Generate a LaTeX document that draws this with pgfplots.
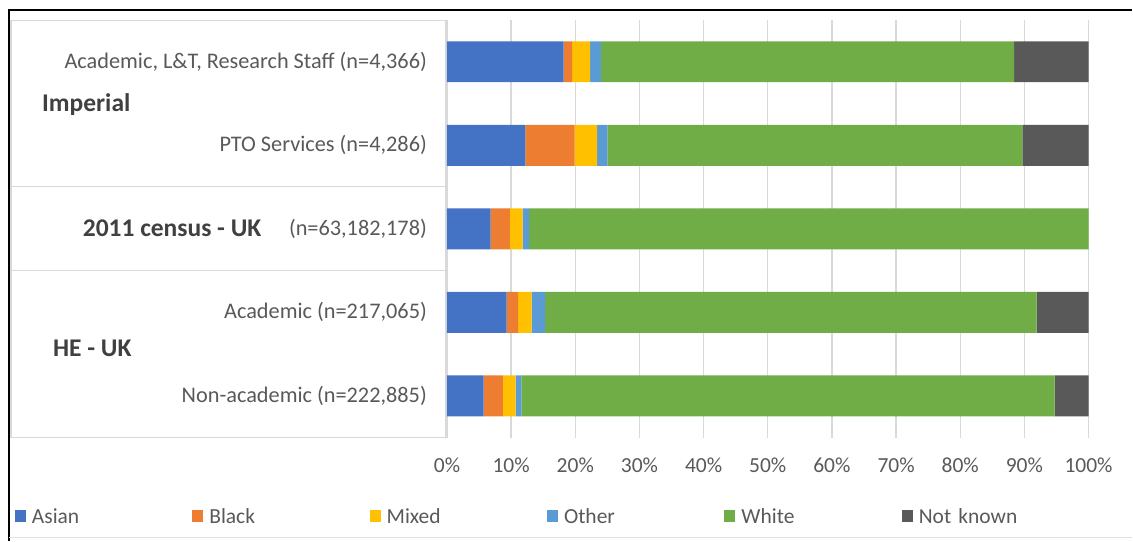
\documentclass[border=0pt]{standalone}
\usepackage{fontspec}
\setmainfont{Carlito}
\usepackage{pgfplots}
\pgfplotsset{compat=1.18}

\definecolor{cAsian}{HTML}{4472C4}
\definecolor{cBlack}{HTML}{ED7D31}
\definecolor{cMixed}{HTML}{FFC000}
\definecolor{cOther}{HTML}{5B9BD5}
\definecolor{cWhite}{HTML}{70AD47}
\definecolor{cNK}{HTML}{595959}
\definecolor{txt}{HTML}{595959}
\definecolor{lbl}{HTML}{404040}
\definecolor{gridc}{HTML}{D9D9D9}

\newcommand{\normfont}{\fontsize{21.5bp}{26bp}\selectfont}
\newcommand{\catfont}{\fontsize{22.3bp}{27bp}\selectfont}
\newcommand{\grpfont}{\fontsize{25.5bp}{30bp}\selectfont\bfseries}

\begin{document}
\begin{tikzpicture}[font=\normfont]
% page extent
\path (0,0) rectangle (1133bp,541bp);
% outer frame
\draw[black, line width=1.6bp] (9bp,0) -- (9bp,531bp) -- (1133bp,531bp);
\draw[gridc!80!white, line width=1bp] (9bp,3bp) -- (1133bp,3bp);
% category table
\draw[gridc, line width=1.2bp] (11bp,103bp) rectangle (445.7bp,520.3bp);
\draw[gridc, line width=1.2bp] (11bp,354bp) -- (445.7bp,354bp);
\draw[gridc, line width=1.2bp] (11bp,270bp) -- (447bp,270bp);
% group labels
\node[anchor=base west, font=\grpfont, text=lbl, inner sep=0pt] at (42bp,429.3bp) {Imperial};
\node[anchor=base west, font=\grpfont, text=lbl, inner sep=0pt] at (82.7bp,304.3bp) {2011 census - UK};
\node[anchor=base west, font=\grpfont, text=lbl, inner sep=0pt] at (53bp,184bp) {HE - UK};

\begin{axis}[
  at={(447.3bp,103bp)}, anchor=south west,
  scale only axis, width=642bp, height=418bp,
  xbar stacked, bar width=41bp,
  xmin=0, xmax=100, ymin=-0.5, ymax=4.5,
  y dir=reverse,
  ytick={0,1,2,3,4},
  yticklabels={{Academic, L\&T, Research Staff (n=4,366)},{PTO Services (n=4,286)},{(n=63,182,178)},{Academic (n=217,065)},{Non-academic (n=222,885)}},
  xtick={0,10,...,100},
  xticklabels={0\%,10\%,20\%,30\%,40\%,50\%,60\%,70\%,80\%,90\%,100\%},
  axis line style={draw=none},
  tick style={draw=none},
  xmajorgrids,
  major grid style={draw=gridc, line width=1.3bp},
  tick label style={text=txt, font=\normfont},
  yticklabel style={inner sep=0pt, xshift=-20bp, font=\catfont},
  xticklabel style={anchor=base, inner sep=0pt, yshift=-34.7bp},
  legend columns=-1,
  legend image code/.code={\fill[#1] (0bp,-5bp) rectangle (11bp,7bp);},
  legend style={at={(-0.6734,-0.189)}, anchor=west, draw=none, fill=none,
    inner sep=0pt, outer sep=0pt, font=\normfont, text=txt,
    /tikz/every odd column/.append style={column sep=6bp},
    nodes={inner sep=0pt, text width=160.5bp, align=left}},
]
\addplot[fill=cAsian, draw=none] coordinates {(18.2,0) (12.2,1) (6.8,2) (9.3,3) (5.7,4)};
\addplot[fill=cBlack, draw=none] coordinates {(1.3,0) (7.7,1) (3.0,2) (1.8,3) (3.0,4)};
\addplot[fill=cMixed, draw=none] coordinates {(2.8,0) (3.5,1) (2.0,2) (2.1,3) (2.0,4)};
\addplot[fill=cOther, draw=none] coordinates {(1.7,0) (1.6,1) (1.0,2) (2.1,3) (0.9,4)};
\addplot[fill=cWhite, draw=none] coordinates {(64.4,0) (64.7,1) (87.2,2) (76.6,3) (83.1,4)};
\addplot[fill=cNK, draw=none] coordinates {(11.6,0) (10.3,1) (0,2) (8.1,3) (5.3,4)};
\legend{Asian,Black,Mixed,Other,White,Not known}
\end{axis}
\end{tikzpicture}
\end{document}
